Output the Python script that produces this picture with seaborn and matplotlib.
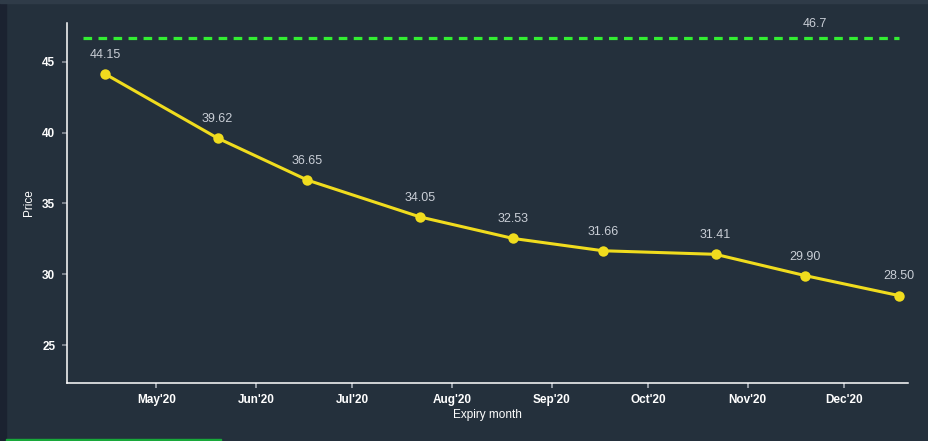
import pandas as pd
import numpy as np
import matplotlib
matplotlib.use("Agg")
import matplotlib.pyplot as plt
import matplotlib.dates as mdates
from matplotlib.patches import Rectangle
import seaborn as sns

# expiry dates and prices
expiry = ["2020-04-15", "2020-05-20", "2020-06-17", "2020-07-22", "2020-08-20",
          "2020-09-17", "2020-10-22", "2020-11-19", "2020-12-18"]
price = [44.15, 39.62, 36.65, 34.05, 32.53, 31.66, 31.41, 29.90, 28.50]
price_labels = ["44.15", "39.62", "36.65", "34.05", "32.53", "31.66", "31.41", "29.90", "28.50"]
spot = 46.7

df = pd.DataFrame({"Expiry month": pd.to_datetime(expiry), "Price": price})

bg = "#24303c"
sns.set_style("ticks", {"axes.facecolor": bg, "figure.facecolor": bg,
                        "axes.edgecolor": "white", "xtick.color": "#aab0b8",
                        "ytick.color": "#8a9099", "text.color": "white"})
plt.rcParams["font.family"] = ["Liberation Sans", "DejaVu Sans"]

fig = plt.figure(figsize=(9.29, 4.41), dpi=100)
ax = fig.add_axes([0.0716, 0.1322, 0.9777 - 0.0716, 0.9472 - 0.1322])

sns.lineplot(data=df, x="Expiry month", y="Price", ax=ax, color="#f0dc1e",
             linewidth=2.2, marker="o", markersize=7.5, markeredgewidth=0,
             zorder=3)

# spot/reference line
ax.hlines(spot, pd.Timestamp("2020-04-08"), df["Expiry month"].iloc[-1],
          colors="#33ee33", linewidth=2.3, linestyles=(0, (2.7, 2.0)), zorder=2)
ax.text(pd.Timestamp("2020-11-22"), spot + 0.95, f"{spot}", color="#c9ced6",
        fontsize=9, ha="center", va="center")

for d, p, lab in zip(df["Expiry month"], price, price_labels):
    ax.annotate(lab, (d, p), xytext=(0, 13.7), textcoords="offset points",
                ha="center", va="center", color="#c9ced6", fontsize=9)

ax.set_xlim(pd.Timestamp("2020-04-03"), pd.Timestamp("2020-12-21"))
ax.set_ylim(22.34, 47.73)
ax.set_yticks([25, 30, 35, 40, 45])
ax.xaxis.set_major_locator(mdates.MonthLocator(bymonth=range(5, 13)))
ax.xaxis.set_major_formatter(mdates.DateFormatter("%b'%y"))

ax.tick_params(axis="both", length=3.6, width=1.2, pad=4.5, labelsize=8.5,
               labelcolor="white")
for t in ax.get_xticklabels() + ax.get_yticklabels():
    t.set_fontweight("bold")
sns.despine(ax=ax)
ax.spines["left"].set_linewidth(1.1)
ax.spines["bottom"].set_linewidth(1.1)

ax.set_xlabel("Expiry month", color="white", fontsize=8.5, labelpad=2)
ax.set_ylabel("Price", color="white", fontsize=8.5, labelpad=5)

# page chrome around the chart
fig.patches.append(Rectangle((0, 0), 6 / 929, 1, transform=fig.transFigure,
                             color="#1b2230", zorder=0))
fig.patches.append(Rectangle((0, 1 - 3 / 441), 1, 3 / 441, transform=fig.transFigure,
                             color="#2f3b48", zorder=0))
fig.patches.append(Rectangle((6 / 929, 0), 215 / 929, 2.5 / 441, transform=fig.transFigure,
                             color="#18a83a", zorder=0))

fig.savefig("out.png", dpi=100, facecolor=bg)
